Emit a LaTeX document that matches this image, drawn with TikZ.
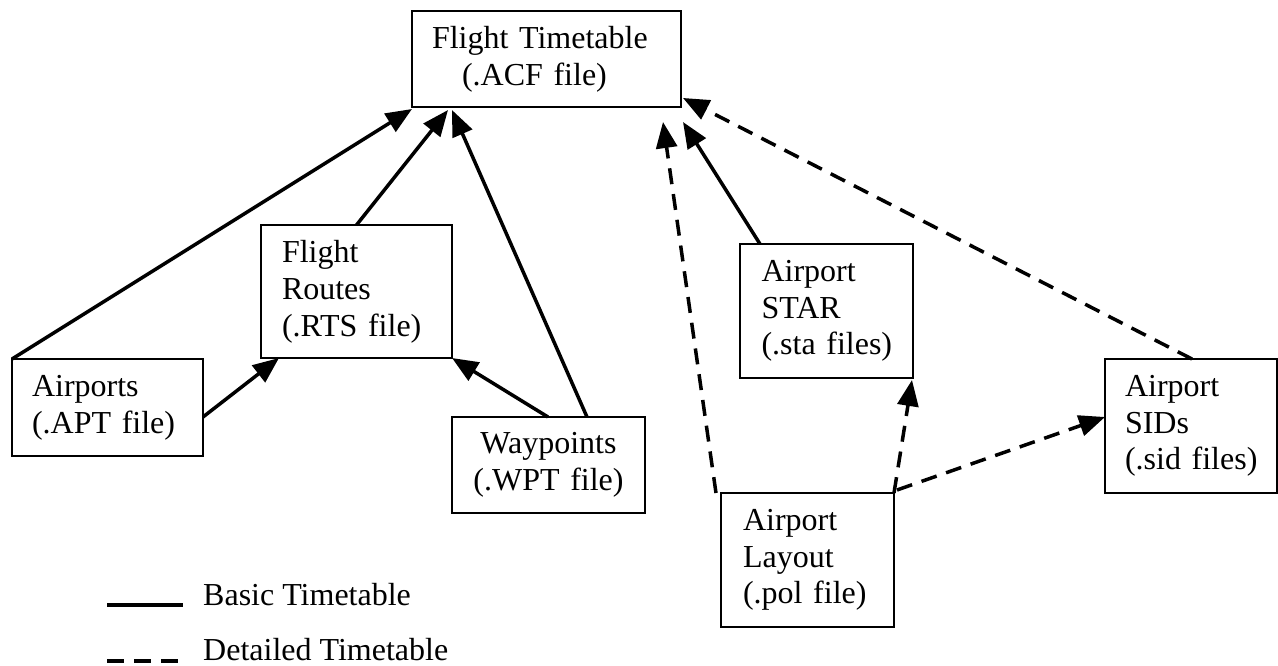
\documentclass[tikz,border=0pt]{standalone}
\usepackage{fontspec}
\setmainfont{Liberation Serif}
\usetikzlibrary{arrows.meta}

\tikzset{
  filebox/.style={draw, line width=1.8pt, inner sep=0pt, outer sep=0pt,
    font=\fontsize{32}{36.8}\selectfont, align=left},
  legendtext/.style={font=\fontsize{32}{36.8}\selectfont, inner sep=0pt, anchor=base west},
  basiclink/.style={line width=3.5pt, -{Triangle[length=26pt,width=21pt]}},
  detaillink/.style={basiclink, dash pattern=on 16pt off 10pt},
  legendline/.style={line width=3.5pt},
}

\begin{document}
\begin{tikzpicture}[x=1pt, y=-1pt]
  \useasboundingbox (0,0) rectangle (1278,665);

  % file boxes
  \node[filebox, minimum width=269pt, minimum height=96pt, text width=229pt] (ft) at (546.5,59)
    {Flight~Timetable\\\hspace*{30pt}(.ACF~file)};
  \node[filebox, minimum width=191pt, minimum height=133pt, text width=149pt] (rts) at (356.5,291.5)
    {Flight\\Routes\\(.RTS~file)};
  \node[filebox, minimum width=191pt, minimum height=97pt, text width=151pt] (apt) at (107.5,407.5)
    {Airports\\(.APT~file)};
  \node[filebox, minimum width=193pt, minimum height=96pt, text width=170pt, align=center] (wpt) at (548.5,465)
    {Waypoints\\(.WPT~file)};
  \node[filebox, minimum width=173pt, minimum height=134pt, text width=130pt] (sta) at (826.5,311)
    {Airport\\STAR\\(.sta~files)};
  \node[filebox, minimum width=172pt, minimum height=134pt, text width=132pt] (sid) at (1191,426)
    {Airport\\SIDs\\(.sid~files)};
  \node[filebox, minimum width=173pt, minimum height=134pt, text width=129pt] (pol) at (807.5,560)
    {Airport\\Layout\\(.pol~file)};

  % basic timetable inputs
  \draw[basiclink] (apt.north west) -- ([yshift=-2pt]ft.south west);
  \draw[basiclink] (rts.north) -- ([xshift=36pt,yshift=-3pt]ft.south west);
  \draw[basiclink] ([xshift=38.5pt]wpt.north) -- ([xshift=40pt,yshift=-3pt]ft.south west);
  \draw[basiclink] ([yshift=-9.5pt]apt.east) -- ([xshift=18pt]rts.south west);
  \draw[basiclink] ([xshift=-0.5pt]wpt.north) -- (rts.south east);
  \draw[basiclink] ([xshift=20pt]sta.north west) -- ([xshift=2pt,yshift=-15pt]ft.south east);

  % detailed timetable inputs
  \draw[detaillink] ([xshift=-5pt]pol.north west) -- ([xshift=-18pt,yshift=-15pt]ft.south east);
  \draw[detaillink] ([xshift=1pt]sid.north) -- ([xshift=2pt,yshift=9pt]ft.south east);
  \draw[detaillink] (pol.north east) -- ([xshift=-1pt,yshift=-2pt]sta.south east);
  \draw[detaillink] ([xshift=3pt,yshift=3pt]pol.north east) -- ([yshift=9pt]sid.west);

  % legend
  \draw[legendline] (107,605) -- (183,605);
  \node[legendtext] (basic) at (203,605) {Basic Timetable};
  \draw[legendline, dash pattern=on 17pt off 10pt] (107,661) -- (178,661);
  \node[legendtext] (detailed) at (203,660) {Detailed Timetable};
\end{tikzpicture}
\end{document}
